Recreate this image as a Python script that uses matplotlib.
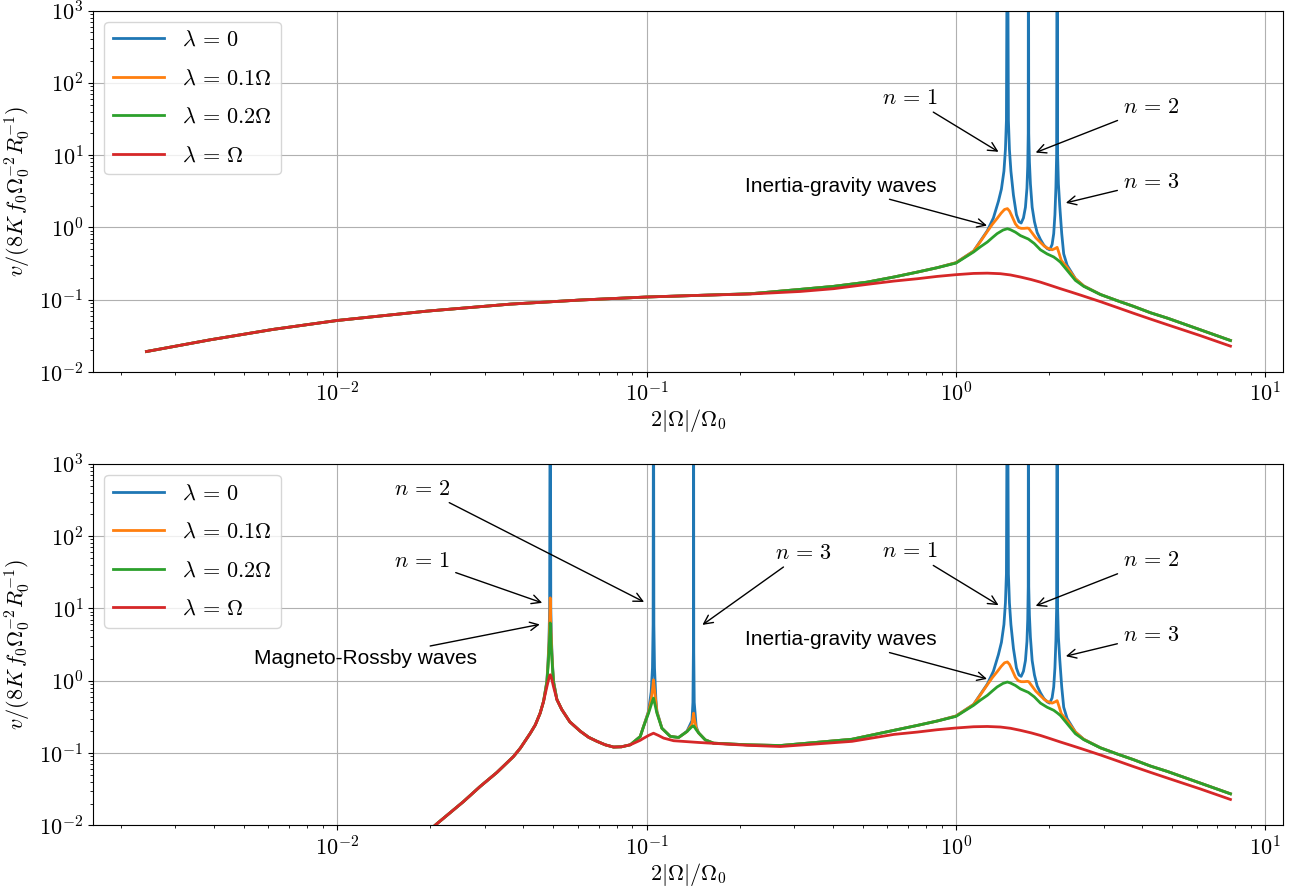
import numpy as np
import matplotlib
matplotlib.use("Agg")
import matplotlib.pyplot as plt

plt.rcParams["font.family"] = "serif"
plt.rcParams["font.serif"] = ["cmr10"]
plt.rcParams["mathtext.fontset"] = "cm"
plt.rcParams["axes.formatter.use_mathtext"] = True

# Series labels / colours
labels = [r"$\lambda\,=\,0$", r"$\lambda\,=\,0.1\Omega$", r"$\lambda\,=\,0.2\Omega$", r"$\lambda\,=\,\Omega$"]
colors = ["tab:blue", "tab:orange", "tab:green", "tab:red"]

# ---------- top panel, low frequency part (all lambda identical) ----------
x_top_low = [0.00242, 0.00389, 0.00622, 0.01, 0.0195, 0.0363, 0.0611, 0.1, 0.149]
y_top_low = [0.0192, 0.0279, 0.0389, 0.0516, 0.0695, 0.0869, 0.099, 0.109, 0.115]
x_top_mid = [0.217, 0.314, 0.402, 0.516]
y_top_mid_wave = [0.121, 0.139, 0.153, 0.175]
y_top_mid_red = [0.120, 0.130, 0.142, 0.163]

# ---------- high frequency part (inertia-gravity waves), same in both panels ----------
x_hi_blue = [0.63, 0.75, 0.869, 1.0, 1.14, 1.263, 1.321, 1.3715, 1.4025, 1.4289,
             1.4449, 1.4555, 1.4664, 1.4773, 1.4885, 1.5051, 1.5335, 1.5681, 1.5977, 1.6241,
             1.6520, 1.6769, 1.6959, 1.7057, 1.7120, 1.7147, 1.7186, 1.7274, 1.7402, 1.7629,
             1.7932, 1.8295, 1.8751, 1.9219, 1.9712, 2.0089, 2.0449, 2.0695, 2.0882, 2.1037,
             2.1149, 2.1227, 2.1306, 2.1434, 2.1643, 2.1968, 2.2294, 2.2866, 2.432, 2.588,
             2.931, 3.32, 3.747, 4.253, 4.83, 6.17, 7.71]
y_hi_blue = [0.206, 0.241, 0.277, 0.325, 0.47, 0.9, 1.35, 2.3, 3.4, 6,
             12, 30, 1e5, 30, 12, 6, 2.8, 1.5, 1.2, 1.15,
             1.35, 1.9, 3.5, 7, 20, 1e5, 20, 8, 4, 1.9,
             1.2, 0.85, 0.68, 0.57, 0.51, 0.49, 0.58, 0.82, 1.5, 3.6,
             10, 1e5, 10, 4, 2.0, 0.82, 0.43, 0.30, 0.195, 0.155,
             0.118, 0.097, 0.081, 0.066, 0.0555, 0.0383, 0.0273]

x_hi_orange = [0.63, 0.75, 0.869, 1.0, 1.14, 1.20, 1.263, 1.31, 1.358, 1.40,
               1.435, 1.4664, 1.49, 1.52, 1.556, 1.59, 1.624, 1.66, 1.70, 1.7186,
               1.762, 1.81, 1.875, 1.93, 1.97, 2.045, 2.09, 2.1227, 2.15, 2.19,
               2.2866, 2.432, 2.588, 2.931, 3.32, 3.747, 4.253, 4.83, 6.17, 7.71]
y_hi_orange = [0.206, 0.241, 0.277, 0.325, 0.47, 0.64, 0.88, 1.1, 1.33, 1.58,
               1.77, 1.82, 1.68, 1.4, 1.12, 1.0, 0.97, 0.97, 0.98, 0.97,
               0.84, 0.72, 0.62, 0.55, 0.52, 0.49, 0.51, 0.53, 0.45, 0.35,
               0.28, 0.195, 0.155, 0.118, 0.097, 0.081, 0.066, 0.0555, 0.0383, 0.0273]

x_hi_green = [0.63, 0.75, 0.869, 1.0, 1.14, 1.20, 1.263, 1.31, 1.358, 1.42,
              1.4664, 1.50, 1.556, 1.616, 1.714, 1.79, 1.875, 1.97, 2.07, 2.123,
              2.176, 2.2866, 2.432, 2.588, 2.931, 3.32, 3.747, 4.253, 4.83, 6.17, 7.71]
y_hi_green = [0.206, 0.241, 0.277, 0.321, 0.457, 0.54, 0.628, 0.72, 0.82, 0.92,
              0.96, 0.93, 0.86, 0.77, 0.69, 0.60, 0.49, 0.43, 0.39, 0.36,
              0.33, 0.255, 0.185, 0.153, 0.118, 0.097, 0.081, 0.066, 0.0555, 0.0383, 0.0273]

x_hi_red = [0.63, 0.75, 0.869, 1.0, 1.14, 1.263, 1.392, 1.5, 1.616, 1.75,
            1.875, 2.0, 2.176, 2.35, 2.54, 2.931, 3.32, 3.747, 4.253, 4.83, 6.17, 7.71]
y_hi_red = [0.181, 0.195, 0.21, 0.222, 0.231, 0.233, 0.229, 0.22, 0.206, 0.19,
            0.175, 0.16, 0.142, 0.128, 0.115, 0.094, 0.078, 0.065, 0.054, 0.045, 0.0318, 0.0228]

# ---------- bottom panel, low frequency part (magneto-Rossby waves) ----------
x_bot_rise = [0.0160, 0.0210, 0.02561, 0.02897, 0.03281, 0.03715, 0.0391,
              0.0421, 0.0437, 0.0453, 0.04645]
y_bot_rise = [0.0038, 0.0105, 0.02133, 0.0344, 0.0537, 0.0895, 0.117,
              0.188, 0.245, 0.356, 0.515]

x_bot_peak1 = [0.04764, 0.04800, 0.04836, 0.04861, 0.04883, 0.04904, 0.04930, 0.04966, 0.05003]
y_bot_peak1_blue = [1.0, 1.7, 3.5, 10, 1e5, 10, 3.5, 1.7, 1.0]
y_bot_peak1_orange = [0.97, 1.6, 3.0, 6.0, 14, 6.0, 3.0, 1.6, 0.97]
y_bot_peak1_green = [0.95, 1.5, 2.5, 4.0, 6.3, 4.0, 2.5, 1.5, 0.95]
y_bot_peak1_red = [0.83, 0.95, 1.08, 1.17, 1.21, 1.17, 1.08, 0.95, 0.83]

x_bot_trough = [0.05131, 0.0532, 0.0565, 0.0611, 0.065, 0.0692, 0.0735, 0.0782, 0.083, 0.0886]
y_bot_trough = [0.55, 0.40, 0.27, 0.20, 0.165, 0.145, 0.13, 0.121, 0.122, 0.130]

x_bot_mid_blue = [0.0954, 0.0978, 0.1015, 0.1035, 0.1045, 0.1050, 0.1053, 0.1056, 0.1061, 0.1072,
                  0.108, 0.1121, 0.1193, 0.1269, 0.1351, 0.1402, 0.1412, 0.1417, 0.1419, 0.1421,
                  0.1426, 0.1447, 0.1473, 0.1548, 0.1646, 0.2112, 0.2706, 0.461]
y_bot_mid_blue = [0.169, 0.233, 0.38, 0.7, 1.5, 6, 1e5, 6, 1.5, 0.55,
                  0.38, 0.22, 0.17, 0.164, 0.2, 0.28, 0.5, 2.5, 1e5, 2.5,
                  0.5, 0.23, 0.19, 0.152, 0.137, 0.130, 0.127, 0.155]
x_bot_mid_orange = [0.0954, 0.0978, 0.1015, 0.1035, 0.1047, 0.1053, 0.1059, 0.1072, 0.108, 0.1121,
                    0.1193, 0.1269, 0.1351, 0.1402, 0.1412, 0.1419, 0.1426, 0.1447, 0.1473, 0.1548,
                    0.1646, 0.2112, 0.2706, 0.461]
y_bot_mid_orange = [0.169, 0.233, 0.37, 0.55, 0.8, 1.03, 0.8, 0.5, 0.37, 0.22,
                    0.17, 0.164, 0.198, 0.25, 0.3, 0.356, 0.3, 0.22, 0.19, 0.152,
                    0.137, 0.130, 0.127, 0.155]
x_bot_mid_green = [0.0954, 0.0978, 0.1015, 0.1041, 0.1053, 0.1067, 0.108, 0.1121, 0.1193, 0.1269,
                   0.1351, 0.1402, 0.1419, 0.1447, 0.1473, 0.1548, 0.1646, 0.2112, 0.2706, 0.461]
y_bot_mid_green = [0.169, 0.233, 0.356, 0.50, 0.575, 0.45, 0.356, 0.22, 0.17, 0.164,
                   0.198, 0.232, 0.238, 0.21, 0.19, 0.152, 0.137, 0.130, 0.127, 0.155]
x_bot_mid_red = [0.0954, 0.0978, 0.1015, 0.1053, 0.1093, 0.1135, 0.1223, 0.1473, 0.2112, 0.2706, 0.461]
y_bot_mid_red = [0.150, 0.16, 0.175, 0.188, 0.175, 0.161, 0.148, 0.14, 0.128, 0.123, 0.145]

# ---------- assemble the curves ----------
hi = [(x_hi_blue, y_hi_blue), (x_hi_orange, y_hi_orange),
      (x_hi_green, y_hi_green), (x_hi_red, y_hi_red)]

top_series = []
for i, (xh, yh) in enumerate(hi):
    ymid = y_top_mid_red if i == 3 else y_top_mid_wave
    xs = np.concatenate([x_top_low, x_top_mid, xh])
    ys = np.concatenate([y_top_low, ymid, yh])
    top_series.append((xs, ys))

bot_peak1 = [y_bot_peak1_blue, y_bot_peak1_orange, y_bot_peak1_green, y_bot_peak1_red]
bot_mid = [(x_bot_mid_blue, y_bot_mid_blue), (x_bot_mid_orange, y_bot_mid_orange),
           (x_bot_mid_green, y_bot_mid_green), (x_bot_mid_red, y_bot_mid_red)]
bot_series = []
for i, (xh, yh) in enumerate(hi):
    xm, ym = bot_mid[i]
    xs = np.concatenate([x_bot_rise, x_bot_peak1, x_bot_trough, xm, xh])
    ys = np.concatenate([y_bot_rise, bot_peak1[i], y_bot_trough, ym, yh])
    bot_series.append((xs, ys))

fig, axes = plt.subplots(2, 1, figsize=(12.94, 8.91), dpi=100)
fig.subplots_adjust(left=0.0719, right=0.9915, top=0.9882, bottom=0.0737, hspace=0.254)

sans = ["Liberation Sans", "DejaVu Sans"]
arrow = dict(arrowstyle="->", color="black", lw=1)


def ann(ax, text, xy, xytext, sans_font=False):
    kw = dict(fontsize=15, family=sans) if sans_font else dict(fontsize=16)
    ax.annotate(text, xy=xy, xytext=xytext, ha="center", va="center",
                arrowprops=arrow, **kw)


for ax, series in zip(axes, [top_series, bot_series]):
    for (xs, ys), lab, col in zip(series, labels, colors):
        ax.plot(xs, ys, color=col, lw=2, label=lab)
    ax.set_xscale("log")
    ax.set_yscale("log")
    ax.set_xlim(1.626e-3, 11.4)
    ax.set_ylim(1e-2, 1e3)
    ax.grid(True)
    ax.tick_params(labelsize=16)
    ax.set_xlabel(r"$2|\Omega|/\Omega_0$", fontsize=16, labelpad=1)
    ax.set_ylabel(r"$v/(8K\,f_0\Omega_0^{-2}R_0^{-1})$", fontsize=16)
    ax.legend(loc="upper left", fontsize=16, labelspacing=0.85, handlelength=2.3)
    # inertia-gravity annotations (same in both panels)
    ann(ax, r"$n\,=\,1$", (1.397, 10.6), (0.712, 61.4))
    ann(ax, r"$n\,=\,2$", (1.775, 10.5), (4.28, 46.0))
    ann(ax, r"$n\,=\,3$", (2.22, 2.14), (4.28, 4.22))
    ann(ax, "Inertia-gravity waves", (1.285, 1.036), (0.426, 3.71), sans_font=True)

ax = axes[1]
ann(ax, "Magneto-Rossby waves", (0.0461, 6.12), (0.01232, 2.01), sans_font=True)
ann(ax, r"$n\,=\,1$", (0.0469, 11.6), (0.01883, 45.5))
ann(ax, r"$n\,=\,2$", (0.100, 11.8), (0.01883, 451))
ann(ax, r"$n\,=\,3$", (0.149, 5.62), (0.321, 58.7))

fig.savefig("out.png", dpi=100)
